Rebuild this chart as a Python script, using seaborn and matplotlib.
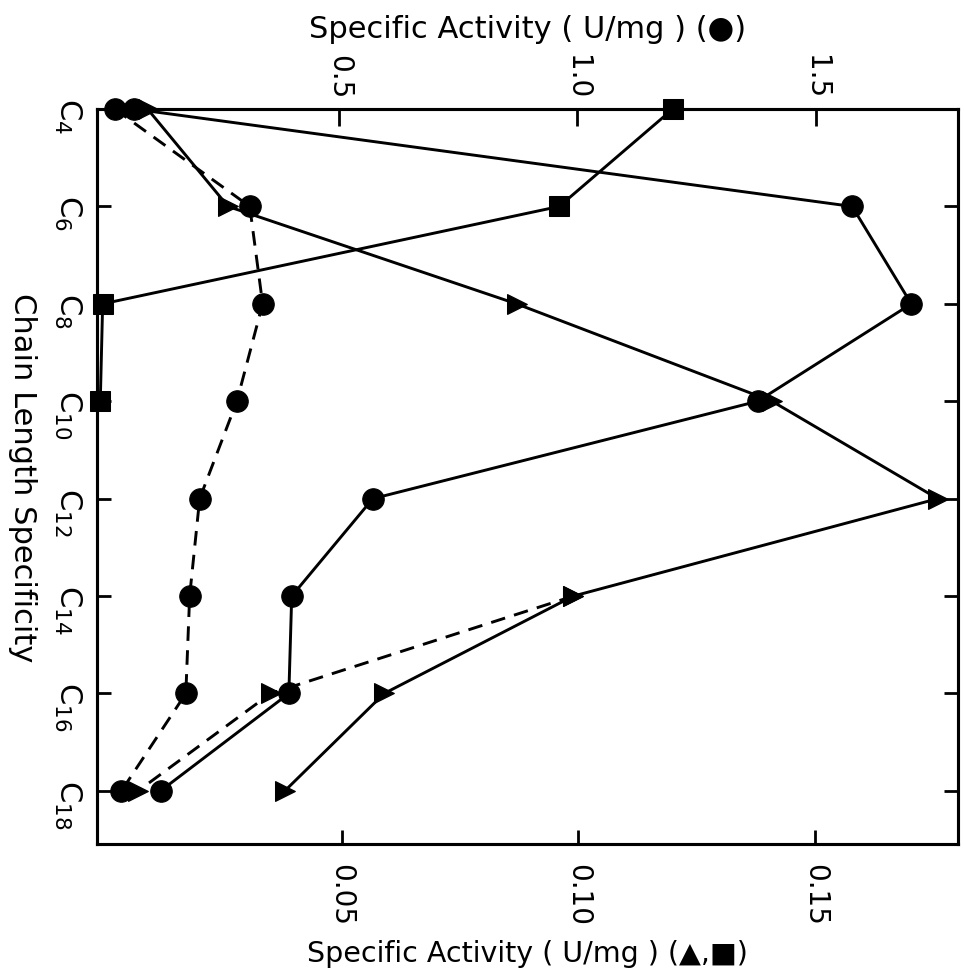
import matplotlib
matplotlib.use("Agg")
import matplotlib.pyplot as plt
import pandas as pd
import seaborn as sns

# Chain length (number of carbons) of the acyl substrates
chain = [4, 6, 8, 10, 12, 14, 16, 18]
chain_labels = [r"$\mathrm{C}_{%d}$" % c for c in chain]

# Specific activity (U/mg), circles -> top scale
circle_solid = [0.07, 1.576, 1.70, 1.378, 0.571, 0.401, 0.395, 0.126]
circle_dashed = [0.03, 0.313, 0.340, 0.286, 0.208, 0.187, 0.179, 0.044]

# Specific activity (U/mg), triangles and squares -> bottom scale
tri_solid = [0.009, 0.026, 0.087, 0.141, 0.176, 0.099, 0.059, 0.038]
tri_dashed_chain = [14, 16, 18]
tri_dashed = [0.099, 0.035, 0.007]
square_chain = [4, 6, 8, 10]
square_solid = [0.120, 0.096, -0.0005, -0.001]

bottom_ticks = [0.05, 0.10, 0.15]
bottom_ticklabels = ["0.05", "0.10", "0.15"]
top_ticks = [0.5, 1.0, 1.5]
top_ticklabels = ["0.5", "1.0", "1.5"]

sns.set_style("ticks")
plt.rcParams["font.family"] = ["DejaVu Sans"]
plt.rcParams["mathtext.fontset"] = "dejavusans"
plt.rcParams["text.color"] = "black"
plt.rcParams["xtick.color"] = "black"
plt.rcParams["ytick.color"] = "black"
plt.rcParams["axes.labelcolor"] = "black"

fig = plt.figure(figsize=(9.64, 9.79), dpi=100)
ax = fig.add_axes([0.1006, 0.1369, 0.8932, 0.7507])
ax2 = ax.twiny()

lw = 2.1
dash = (0, (5, 3.2))
common = dict(color="black", linewidth=lw, sort=False, estimator=None,
              markeredgecolor="black", clip_on=False, legend=False)

# triangles and squares on the bottom scale
sns.lineplot(x=tri_solid, y=chain, ax=ax, marker=">", markersize=15, **common)
sns.lineplot(x=tri_dashed, y=tri_dashed_chain, ax=ax, marker=">", markersize=15,
             linestyle=dash, **common)
sns.lineplot(x=square_solid, y=square_chain, ax=ax, marker="s", markersize=14, **common)

# circles on the top scale
sns.lineplot(x=circle_solid, y=chain, ax=ax2, marker="o", markersize=15.5, **common)
sns.lineplot(x=circle_dashed, y=chain, ax=ax2, marker="o", markersize=15.5,
             linestyle=dash, **common)

ax.set_xlim(-0.0017, 0.1803)
ax2.set_xlim(-0.0073, 1.798)
ax.set_ylim(19.09, 4)
ax2.set_ylim(19.09, 4)

ax.set_xticks(bottom_ticks)
ax.set_xticklabels(bottom_ticklabels)
ax2.set_xticks(top_ticks)
ax2.set_xticklabels(top_ticklabels)
ax.set_yticks(chain)
ax.set_yticklabels(chain_labels)

for a in (ax, ax2):
    for s in a.spines.values():
        s.set_linewidth(2.2)
        s.set_color("black")
        s.set_visible(True)

ax.tick_params(axis="x", direction="in", length=10, width=2, labelsize=20,
               labelrotation=270, pad=14)
ax.tick_params(axis="y", direction="in", length=10, width=2, labelsize=22,
               labelrotation=270, pad=10, right=True)
ax2.tick_params(axis="x", direction="in", length=12, width=2, labelsize=20,
                labelrotation=270, pad=8)

ax.set_xlabel("Specific Activity ( U/mg ) (▲,■)", fontsize=20.5, labelpad=10)
ax2.set_xlabel("Specific Activity ( U/mg ) (●)", fontsize=22, labelpad=12)
ax.set_ylabel("Chain Length Specificity", fontsize=22, rotation=270,
              va="center", ha="center")
ax.yaxis.set_label_coords(-0.087, 0.5)

fig.savefig("out.png", dpi=100)
